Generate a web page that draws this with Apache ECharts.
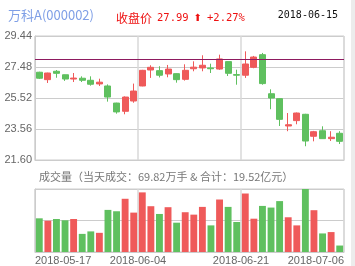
<!DOCTYPE html>
<html><head><meta charset="utf-8">
<script src="https://cdn.jsdelivr.net/npm/echarts@6/dist/echarts.min.js"></script>
<style>html,body{margin:0;padding:0;background:#fff}#c{width:355px;height:266px}</style>
</head><body><div id="c"></div>
<script>
const dates = ['2018-05-17','2018-05-18','2018-05-21','2018-05-22','2018-05-23','2018-05-24','2018-05-25','2018-05-28','2018-05-29','2018-05-30','2018-05-31','2018-06-01',
 '2018-06-04','2018-06-05','2018-06-06','2018-06-07','2018-06-08','2018-06-11','2018-06-12','2018-06-13','2018-06-14','2018-06-15',
 '2018-06-19','2018-06-20','2018-06-21','2018-06-22','2018-06-25','2018-06-26','2018-06-27','2018-06-28','2018-06-29',
 '2018-07-02','2018-07-03','2018-07-04','2018-07-05','2018-07-06'];
const opens  = [27.15,26.68,27.21,26.99,26.72,26.77,26.64,26.41,26.28,25.20,24.68,25.33,26.28,27.29,27.25,27.04,27.06,26.70,27.37,27.42,27.42,27.35,27.82,27.00,26.96,27.46,28.26,25.79,25.48,23.75,24.09,24.49,23.10,23.45,22.95,23.29];
const closes = [26.77,27.10,27.08,26.72,26.78,26.64,26.39,26.52,25.58,24.64,25.58,25.96,27.27,27.46,26.96,27.35,26.68,27.27,27.47,27.59,27.37,27.99,27.08,26.96,27.67,28.11,26.43,25.52,24.17,23.83,24.57,22.80,23.39,22.95,23.04,22.78];
const lows   = [26.72,26.47,26.80,26.60,26.53,26.53,26.30,26.28,25.29,24.53,24.49,25.22,26.26,26.79,26.82,26.83,26.49,26.62,27.21,27.21,27.10,27.30,26.91,26.36,26.79,27.40,26.36,24.81,23.75,23.42,23.86,22.47,22.78,22.95,22.80,22.61];
const highs  = [27.18,27.12,27.29,27.00,27.10,26.89,26.89,26.74,26.38,25.22,25.62,26.43,27.30,27.59,27.53,27.61,27.08,27.65,27.84,28.22,27.69,28.26,27.84,27.31,28.47,28.18,28.37,26.07,25.50,24.57,24.60,24.52,23.44,23.73,23.42,23.42];
const volumes = [44.8,41.6,43.9,42.2,43.9,24.1,27.4,25.5,56.0,54.2,70.8,52.4,79.3,60.9,50.6,59.6,39.0,52.9,49.7,60.0,35.4,69.82,60.0,39.9,77.8,44.3,61.3,59.1,67.7,46.2,35.4,83.8,55.6,24.7,26.5,8.6];
const yTicks = [21.60,23.56,25.52,27.48,29.44];
const labelIdx = [0,12,24,36];
const stockName = '万科A(000002)';
const focusIdx = 21;
const closeText = '27.99';
const changeText = '+2.27%';
const volText = '成交量（当天成交：69.82万手 & 合计：19.52亿元）';

const UP = '#ef5a5a', DOWN = '#5fc05f', GRID = '#cccccc';
const chart = echarts.init(document.getElementById('c'), null, {renderer:'canvas'});
const candle = dates.map((d,i)=>[opens[i],closes[i],lows[i],highs[i]]);
const volData = volumes.map((v,i)=>({value:v,itemStyle:{color: closes[i]>=opens[i]?UP:DOWN}}));
const vMax = Math.max(...volumes);
const yStep = yTicks[1]-yTicks[0];

chart.setOption({
  animation:false,
  graphic:[{type:'rect',shape:{x:351,y:0,width:4,height:266},style:{fill:'#ececec'},silent:true}],
  title:[
    {text:stockName,left:3,top:4,textStyle:{fontSize:13,fontWeight:'normal',color:'#7f9fe6',fontFamily:'Noto Sans CJK SC'}},
    {text:'{cn|收盘价} {n|'+closeText+'} {a|⬆} {n|'+changeText+'}',left:111,top:4,
     textStyle:{fontWeight:'normal',rich:{cn:{fontSize:12,fontWeight:'normal',color:'#ee1111',fontFamily:'Noto Sans CJK SC'},
                      n:{fontSize:10.5,fontWeight:'normal',color:'#ee1111',fontFamily:'DejaVu Sans Mono'},
                      a:{fontSize:10,fontWeight:'normal',color:'#ee1111',fontFamily:'DejaVu Sans'}}}},
    {text:dates[focusIdx],right:12,top:5,textStyle:{fontSize:10,fontWeight:'normal',color:'#111',fontFamily:'DejaVu Sans Mono'}},
    {text:volText,left:34,top:166,textStyle:{fontSize:11,fontWeight:'normal',color:'#777',fontFamily:'Noto Sans CJK SC'}}
  ],
  grid:[
    {left:35,right:11,top:36,height:124,show:true,borderColor:GRID,borderWidth:1},
    {left:35,right:11,top:189,height:63,show:true,borderColor:GRID,borderWidth:1}
  ],
  xAxis:[
    {type:'category',gridIndex:0,data:dates,boundaryGap:true,axisLine:{lineStyle:{color:GRID}},axisTick:{show:false},axisLabel:{show:false},
     splitLine:{show:true,interval:11,lineStyle:{color:'#d8d8d8',width:1.5}}},
    {type:'category',gridIndex:1,data:dates,boundaryGap:true,axisLine:{lineStyle:{color:GRID}},axisTick:{show:false},axisLabel:{show:false},
     splitLine:{show:true,interval:11,lineStyle:{color:'#d8d8d8',width:1.5}}},
    {type:'value',gridIndex:1,min:0,max:dates.length,interval:12,position:'bottom',axisLine:{show:false},axisTick:{show:false},splitLine:{show:false},
     axisLabel:{show:true,margin:3,fontSize:11,color:'#666',fontFamily:'Liberation Sans',alignMinLabel:'left',alignMaxLabel:'right',
       formatter:v=>labelIdx.includes(v)?dates[Math.min(v,dates.length-1)]:''}}
  ],
  yAxis:[
    {type:'value',gridIndex:0,min:yTicks[0],max:yTicks[yTicks.length-1],interval:yStep,
     axisLine:{show:true,lineStyle:{color:GRID}},axisTick:{show:false},
     axisLabel:{margin:3,fontSize:11,color:'#666',fontFamily:'Liberation Sans',formatter:v=>v.toFixed(2)},
     splitLine:{show:true,lineStyle:{color:GRID}}},
    {type:'value',gridIndex:1,min:0,max:vMax,interval:vMax/2,axisLine:{show:true,lineStyle:{color:GRID}},axisTick:{show:false},
     axisLabel:{show:false},splitLine:{show:true,lineStyle:{color:GRID}}}
  ],
  series:[
    {type:'candlestick',xAxisIndex:0,yAxisIndex:0,data:candle,barWidth:'76%',
     itemStyle:{color:UP,color0:DOWN,borderColor:UP,borderColor0:DOWN,borderWidth:1},
     markLine:{silent:true,symbol:'none',label:{show:false},lineStyle:{color:'#8e1a60',width:1,type:'solid'},
       data:[{yAxis:closes[focusIdx]}]}},
    {type:'bar',xAxisIndex:1,yAxisIndex:1,data:volData,barWidth:'80%'}
  ]
});
</script></body></html>
